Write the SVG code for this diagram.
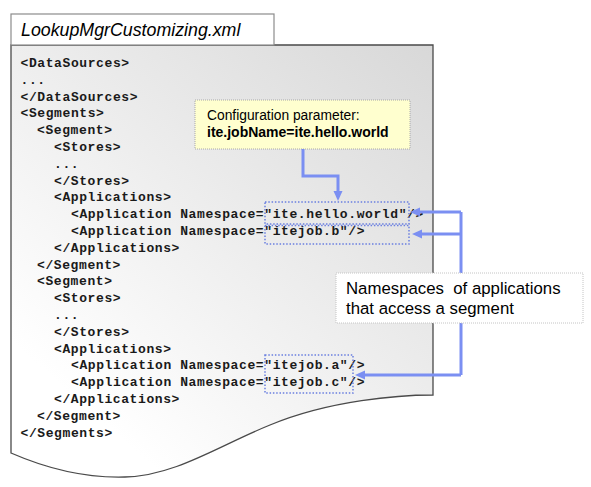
<svg xmlns="http://www.w3.org/2000/svg" width="591" height="487" viewBox="0 0 591 487">
  <style>
    .code { font-family: "Liberation Mono", "DejaVu Sans Mono", monospace; font-weight: bold; font-size: 13px; letter-spacing: 0.6px; fill: #1a1a1a; }
    .hl { fill: none; stroke: #6a7fe0; stroke-width: 1.5; stroke-dasharray: 1.5 1.8; }
    .conn { fill: none; stroke: #7b8ff2; stroke-width: 3; }
    .note { font-family: "Liberation Sans", Arial, sans-serif; fill: #000; }
  </style>
  <defs>
    <linearGradient id="docGrad" gradientUnits="userSpaceOnUse" x1="433" y1="45" x2="100" y2="420">
      <stop offset="0" stop-color="#d8d8d8"/>
      <stop offset="1" stop-color="#ffffff"/>
    </linearGradient>
    <marker id="arrow" viewBox="0 0 10 10" refX="4" refY="5" markerWidth="10" markerHeight="10" markerUnits="userSpaceOnUse" orient="auto">
      <path d="M0,0.5 L10,5 L0,9.5 Z" fill="#7b8ff2"/>
    </marker>
  </defs>

  <g id="document">
    <path d="M11,45 L433,45 L433,395 C400,395 330,400 270,425 C220,445 175,476 125,477 C90,478 50,470 11,453 Z" fill="url(#docGrad)" stroke="#4a4a4a" stroke-width="1.3"/>
    <rect x="11" y="14" width="263" height="31" fill="#ffffff" stroke="#8c8c8c" stroke-width="1.2"/>
    <text class="note" x="21" y="36" font-size="17.8" font-style="italic">LookupMgrCustomizing.xml</text>
  </g>

  <g id="code">
    <text class="code" x="20.5" y="67">&lt;DataSources&gt;</text>
    <text class="code" x="20.5" y="83.8">...</text>
    <text class="code" x="20.5" y="100.6">&lt;/DataSources&gt;</text>
    <text class="code" x="20.5" y="117.4">&lt;Segments&gt;</text>
    <text class="code" x="37" y="134.2">&lt;Segment&gt;</text>
    <text class="code" x="54" y="151">&lt;Stores&gt;</text>
    <text class="code" x="54" y="167.8">...</text>
    <text class="code" x="54" y="184.6">&lt;/Stores&gt;</text>
    <text class="code" x="54" y="201.4">&lt;Applications&gt;</text>
    <text class="code" x="71" y="218.2">&lt;Application Namespace="ite.hello.world"/&gt;</text>
    <text class="code" x="71" y="235">&lt;Application Namespace="itejob.b"/&gt;</text>
    <text class="code" x="54" y="251.8">&lt;/Applications&gt;</text>
    <text class="code" x="37" y="268.6">&lt;/Segment&gt;</text>
    <text class="code" x="37" y="285.4">&lt;Segment&gt;</text>
    <text class="code" x="54" y="302.2">&lt;Stores&gt;</text>
    <text class="code" x="54" y="319">...</text>
    <text class="code" x="54" y="335.8">&lt;/Stores&gt;</text>
    <text class="code" x="54" y="352.6">&lt;Applications&gt;</text>
    <text class="code" x="71" y="369.4">&lt;Application Namespace="itejob.a"/&gt;</text>
    <text class="code" x="71" y="386.2">&lt;Application Namespace="itejob.c"/&gt;</text>
    <text class="code" x="54" y="403">&lt;/Applications&gt;</text>
    <text class="code" x="37" y="419.8">&lt;/Segment&gt;</text>
    <text class="code" x="20.5" y="436.6">&lt;/Segments&gt;</text>
  </g>

  <g id="highlight-hello-world"><rect class="hl" x="265" y="202" width="144" height="22"/></g>
  <g id="highlight-itejob-b"><rect class="hl" x="265" y="225.5" width="144" height="18.5"/></g>
  <g id="highlight-itejob-ac"><rect class="hl" x="265" y="355" width="88" height="38"/></g>

  <g id="config-note">
    <rect x="195" y="100" width="215" height="49" fill="#ffffcf" stroke="#a8a8a8" stroke-width="1" stroke-dasharray="1 1"/>
    <text class="note" x="207" y="120" font-size="13.8">Configuration parameter:</text>
    <text class="note" x="207" y="137" font-size="14" font-weight="bold">ite.jobName=ite.hello.world</text>
  </g>

  <g id="connectors">
    <path class="conn" d="M303,149 V176 H338 V195" marker-end="url(#arrow)"/>
    <path class="conn" d="M461,212 V375"/>
    <path class="conn" d="M461,212 H416" marker-end="url(#arrow)"/>
    <path class="conn" d="M461,234 H418" marker-end="url(#arrow)"/>
    <path class="conn" d="M461,375 H361" marker-end="url(#arrow)"/>
  </g>

  <g id="namespace-note">
    <rect x="336" y="273" width="247" height="50" fill="#ffffff" stroke="#c4c4c4" stroke-width="1" stroke-dasharray="1 1"/>
    <text class="note" x="346" y="294" font-size="16.8">Namespaces&#160; of applications</text>
    <text class="note" x="346" y="314" font-size="16.8">that access a segment</text>
  </g>
</svg>
